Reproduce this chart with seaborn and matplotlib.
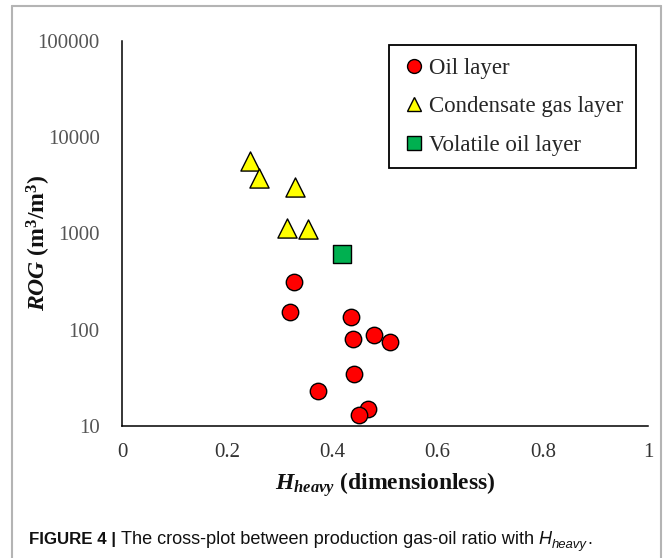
import matplotlib
matplotlib.use("Agg")
import matplotlib.pyplot as plt
from matplotlib.lines import Line2D
import seaborn as sns
import pandas as pd

# ---- data ----
oil_x = [0.327, 0.319, 0.435, 0.439, 0.479, 0.509, 0.442, 0.373, 0.468, 0.450]
oil_y = [316, 153, 135, 80, 88, 75, 35, 23, 15, 13]
cond_x = [0.243, 0.261, 0.328, 0.314, 0.353]
cond_y = [5700, 3750, 3030, 1140, 1110]
vol_x = [0.418]
vol_y = [610]
categories = ["Oil layer", "Condensate gas layer", "Volatile oil layer"]
x_ticks = [0, 0.2, 0.4, 0.6, 0.8, 1]
x_tick_labels = ["0", "0.2", "0.4", "0.6", "0.8", "1"]
y_ticks = [10, 100, 1000, 10000, 100000]
y_tick_labels = ["10", "100", "1000", "10000", "100000"]

df = pd.DataFrame({
    "H": oil_x + cond_x + vol_x,
    "ROG": oil_y + cond_y + vol_y,
    "layer": [categories[0]] * len(oil_x) + [categories[1]] * len(cond_x) + [categories[2]] * len(vol_x),
})

sns.set_theme(style="white")
plt.rcParams["font.family"] = ["Liberation Serif", "DejaVu Serif"]
plt.rcParams["mathtext.fontset"] = "custom"
plt.rcParams["mathtext.rm"] = "Liberation Serif"
plt.rcParams["mathtext.it"] = "Liberation Serif:italic"
plt.rcParams["mathtext.bf"] = "Liberation Serif:bold"
plt.rcParams["mathtext.bfit"] = "Liberation Serif:italic:bold"

W, H = 665, 558
fig = plt.figure(figsize=(W / 100, H / 100), dpi=100)
ax = fig.add_axes([122 / W, 1 - 426 / H, (648 - 122) / W, (426 - 41) / H])

palette = {categories[0]: "#ff0000", categories[1]: "#ffff00", categories[2]: "#00b050"}
markers = {categories[0]: "o", categories[1]: "^", categories[2]: "s"}
sizes_pts = {categories[0]: 140, categories[1]: 190, categories[2]: 150}

for cat in categories:
    sub = df[df["layer"] == cat]
    sns.scatterplot(data=sub, x="H", y="ROG", color=palette[cat], marker=markers[cat],
                    s=sizes_pts[cat], edgecolor="black", linewidth=1.0, ax=ax,
                    label=cat, zorder=3)

ax.set_yscale("log")
ax.set_xlim(0, 1)
ax.set_ylim(10, 100000)
ax.set_xticks(x_ticks)
ax.set_xticklabels(x_tick_labels)
ax.set_yticks(y_ticks)
ax.set_yticklabels(y_tick_labels)
ax.minorticks_off()
ax.tick_params(axis="both", direction="in", length=5, width=1.1, color="black", labelsize=15)
ax.tick_params(axis="x", pad=12, labelcolor="#333333")
ax.tick_params(axis="y", pad=16, labelcolor="#555555")
for side in ["top", "right"]:
    ax.spines[side].set_visible(False)
for side in ["left", "bottom"]:
    ax.spines[side].set_color("black")
    ax.spines[side].set_linewidth(1.1)
ax.set_facecolor("white")

ax.set_xlabel(r"$\mathbfit{H}_{\mathbfit{heavy}}$ (dimensionless)", fontsize=17, fontweight="bold", color="#111111")
ax.set_ylabel(r"$\mathbfit{ROG}$ $\mathbf{(m^{3}/m^{3})}$", fontsize=17, fontweight="bold", color="#111111")
ax.xaxis.set_label_coords((385 - 122) / 526, (426 - 470) / 385)
ax.yaxis.set_label_coords((53 - 122) / 526, (426 - 243) / 385)

leg_handles = []
for cat in categories:
    leg_handles.append(Line2D([], [], linestyle="none", marker=markers[cat], markersize=10,
                              markerfacecolor=palette[cat], markeredgecolor="black", markeredgewidth=1.0))
leg = ax.legend(leg_handles, categories, loc="upper right", bbox_to_anchor=((636 - 122) / 526, (426 - 45) / 385),
                borderaxespad=0, fontsize=16.5, frameon=True, fancybox=False, framealpha=1,
                edgecolor="black", handlelength=1.1, handletextpad=0.1, labelspacing=0.76,
                borderpad=0.55)
leg.get_frame().set_linewidth(1.3)

# figure frame (top, left, right)
def px(x, y):
    return x / W, 1 - y / H
fc = "#b4b4b4"
for (x0, y0, x1, y1) in [(12, 6, 661, 6), (12, 6, 12, 558), (661, 6, 661, 558)]:
    a, b = px(x0, y0)
    c, d = px(x1, y1)
    fig.add_artist(Line2D([a, c], [b, d], transform=fig.transFigure, color=fc, lw=1.5))

# caption built piecewise
renderer = fig.canvas.get_renderer()
cap_family = ["Liberation Sans", "DejaVu Sans"]
cap_size = 13.1
base_y = 1 - 544 / H
x_cur = 29 / W
def put(txt, dy=0.0, **kw):
    global x_cur
    t = fig.text(x_cur, base_y + dy, txt, family=cap_family, va="baseline", ha="left", color="#111111", **kw)
    bb = t.get_window_extent(renderer=renderer)
    x_cur = bb.x1 / W
    return t
put("FIGURE 4 | ", fontsize=12.2, fontweight="bold")
put("The cross-plot between production gas-oil ratio with ", fontsize=cap_size)
put("H", fontsize=cap_size, style="italic")
put("heavy", dy=-4 / H, fontsize=cap_size * 0.72, style="italic")
put(".", fontsize=cap_size)

fig.savefig("out.png", dpi=100, facecolor="white")
